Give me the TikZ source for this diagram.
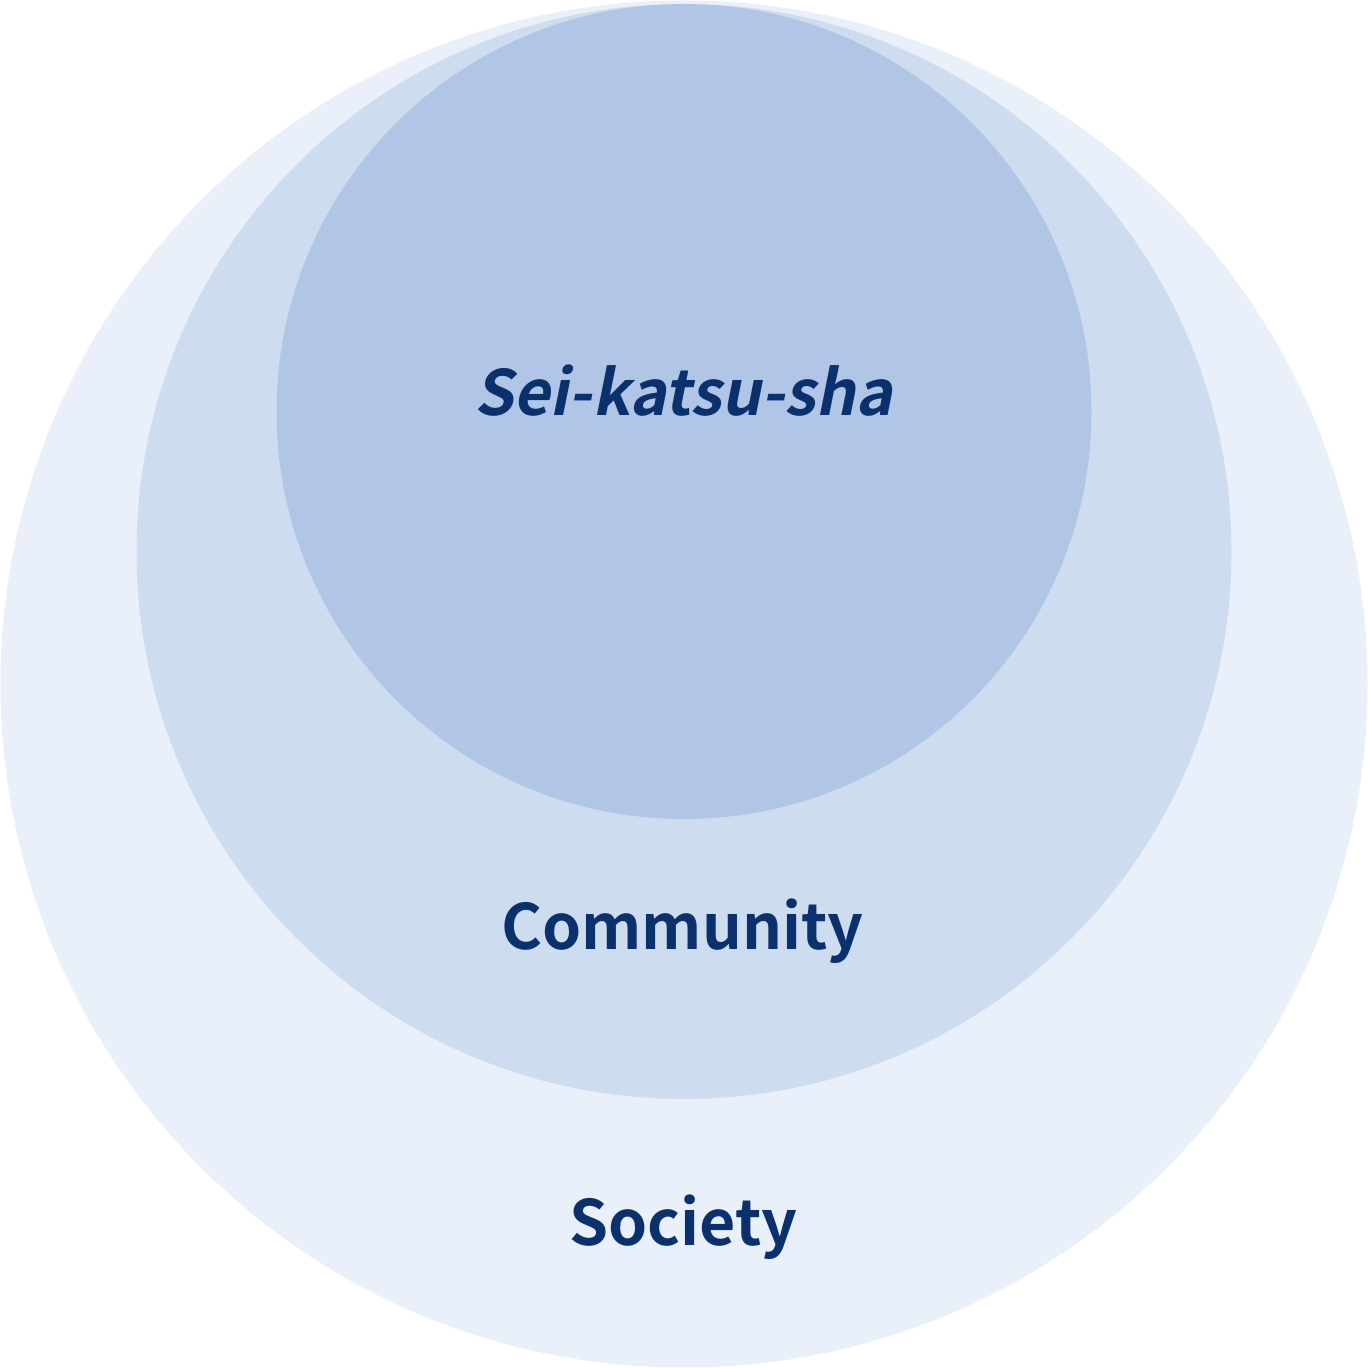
\documentclass[tikz,border=0pt]{standalone}
\usepackage{fontspec}
\setmainfont{Noto Sans CJK JP}[BoldFont={* Bold},BoldItalicFont={* Bold},BoldItalicFeatures={FakeSlant=0.2}]
\usepackage{xcolor}
\usetikzlibrary{positioning}
\definecolor{outerblue}{HTML}{EAF0F9}
\definecolor{midblue}{HTML}{CEDCF0}
\definecolor{innerblue}{HTML}{B1C6E6}
\definecolor{labelblue}{HTML}{0B306E}
\tikzset{lab/.style={text=labelblue,font=\fontsize{17.8pt}{21pt}\selectfont\bfseries,anchor=base,inner sep=0pt}}

\begin{document}
\begin{tikzpicture}
    \useasboundingbox (0,0) rectangle (13.68,13.68);
    \fill[outerblue] (6.84,6.84) circle (6.835);
    \fill[midblue] (6.84,8.165) circle (5.475);
    \fill[innerblue] (6.84,9.565) circle (4.075);

    \node[lab] (sei)at (6.835,13.68-4.16) {\itshape Sei-katsu-sha};
    \node[lab] (com)at (6.825,13.68-9.50) {Community};
    \node[lab] (soc)at (6.835,13.68-12.46) {Society};
\end{tikzpicture}
\end{document}
